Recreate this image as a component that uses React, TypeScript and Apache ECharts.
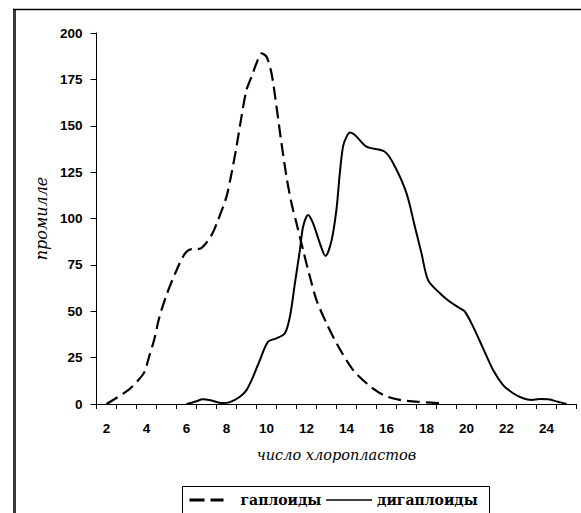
import React, { useEffect, useRef } from 'react';
import * as echarts from 'echarts';

const xCategories = ['2', '3', '4', '5', '6', '7', '8', '9', '10', '11', '12', '13', '14', '15', '16', '17', '18', '19', '20', '21', '22', '23', '24', '25'];

const haploidName = 'гаплоиды';
const haploidX = [2.0, 3.05, 3.55, 3.88, 4.13, 4.38, 4.63, 4.97, 5.47, 5.93, 6.3, 6.63, 6.97, 7.3, 7.58, 8.0, 8.25, 8.5, 8.75, 9.0, 9.25, 9.5, 9.75, 10.0, 10.25, 10.5, 10.75, 11.0, 11.25, 11.5, 11.83, 12.17, 12.5, 13.0, 13.6, 14.33, 15.0, 15.83, 16.67, 17.5, 18.67];
const haploidY = [0, 7.2, 12.4, 16.9, 25.5, 34.5, 46.2, 57.9, 71.3, 81.2, 83.6, 83.6, 86.6, 92, 99.2, 111.8, 124.3, 138.7, 154.9, 169.3, 176.4, 183.7, 189, 187.2, 178.3, 160.3, 140.5, 122.5, 108.2, 97.4, 83, 68.6, 56, 43.5, 30.9, 18.3, 11.2, 4.9, 2.2, 1.3, 0.4];

const dihaploidName = 'дигаплоиды';
const dihaploidX = [6.0, 6.5, 6.8, 7.2, 7.8, 8.17, 8.67, 9.0, 9.33, 9.67, 10.08, 10.5, 10.92, 11.17, 11.42, 11.67, 11.83, 12.08, 12.33, 12.67, 12.95, 13.25, 13.5, 13.67, 13.83, 14.0, 14.17, 14.42, 15.0, 15.92, 16.42, 17.0, 17.42, 17.75, 18.08, 18.67, 19.17, 19.67, 19.92, 20.33, 20.83, 21.33, 21.83, 22.33, 22.83, 23.25, 23.67, 24.08, 24.58, 25.0];
const dihaploidY = [0, 1.5, 2.5, 2.0, 0.5, 1.0, 3.9, 7.5, 14.7, 23.7, 33.6, 35.4, 38.1, 47.1, 65, 83, 95.6, 101.9, 97.4, 86.6, 79.8, 88, 105, 125, 139, 144, 146.3, 145, 138.7, 136, 128, 113.6, 95.6, 81.2, 66.8, 59.7, 55.1, 51.6, 49.8, 41.7, 30, 18.3, 10.2, 5.8, 3.1, 2.2, 2.7, 2.5, 1.2, 0];

const yMin = 0;
const yMax = 200;
const yStep = 25;

const xAxisTitle = 'число хлоропластов';
const yAxisTitle = 'промилле';

function zip(xs: number[], ys: number[]) {
  return xs.map((x, i) => [x, ys[i]]);
}

export default function App() {
  const ref = useRef<HTMLDivElement>(null);
  useEffect(() => {
    const chart = echarts.init(ref.current!, null, { renderer: 'svg' });
    const tickFont = {
      color: '#000',
      fontFamily: 'Liberation Sans',
      fontWeight: 'bold' as const,
      fontSize: 13.5,
    };
    const serif = 'DejaVu Serif';
    chart.setOption({
      animation: false,
      backgroundColor: '#fff',
      grid: { left: 96.5, top: 33, width: 480, height: 371, containLabel: false },
      xAxis: [
        {
          type: 'category',
          data: xCategories,
          boundaryGap: true,
          position: 'bottom',
          name: xAxisTitle,
          nameLocation: 'middle',
          nameGap: 43,
          nameTextStyle: {
            color: '#000',
            fontFamily: serif,
            fontStyle: 'italic',
            fontSize: 14.5,
          },
          axisLine: { show: true, lineStyle: { color: '#000', width: 1 } },
          axisTick: { show: true, length: 5, inside: false, lineStyle: { color: '#000' }, interval: 0 },
          axisLabel: {
            ...tickFont,
            margin: 17,
            interval: (index: number) => index % 2 === 0,
          },
          splitLine: { show: false },
        },
        {
          type: 'value',
          min: 1.5,
          max: 25.5,
          show: false,
          splitLine: { show: false },
        },
      ],
      yAxis: {
        type: 'value',
        min: yMin,
        max: yMax,
        interval: yStep,
        name: yAxisTitle,
        nameLocation: 'middle',
        nameGap: 45,
        nameTextStyle: {
          color: '#000',
          fontFamily: serif,
          fontStyle: 'italic',
          fontSize: 16,
        },
        axisLine: { show: true, lineStyle: { color: '#000', width: 1 } },
        axisTick: { show: true, length: 6, inside: false, lineStyle: { color: '#000' } },
        axisLabel: { ...tickFont, margin: 14 },
        splitLine: { show: false },
      },
      legend: {
        left: 188,
        top: 493,
        padding: 0,
        itemGap: 4,
        itemWidth: 46,
        itemHeight: 14,
        selectedMode: false,
        itemStyle: { color: 'rgba(0,0,0,0)', borderColor: 'rgba(0,0,0,0)', borderWidth: 0 },
        textStyle: {
          color: '#000',
          fontFamily: serif,
          fontWeight: 'bold',
          fontSize: 14,
        },
        data: [
          { name: haploidName, lineStyle: { type: [15, 6, 13, 40], width: 3, color: '#000' } },
          { name: dihaploidName, lineStyle: { type: 'solid', width: 1.5, color: '#000' } },
        ],
      },
      graphic: [
        { type: 'rect', silent: true, shape: { x: 13, y: 9, width: 3, height: 520 }, style: { fill: '#3a3a3a' } },
        { type: 'line', silent: true, shape: { x1: 13, y1: 9.5, x2: 600, y2: 9.5 }, style: { stroke: '#000', lineWidth: 1.5 } },
        { type: 'rect', silent: true, shape: { x: 182.5, y: 486.5, width: 307, height: 40 }, style: { fill: 'none', stroke: '#000', lineWidth: 1 } },
      ],
      series: [
        {
          name: haploidName,
          type: 'line',
          xAxisIndex: 1,
          data: zip(haploidX, haploidY),
          smooth: 0.3,
          symbol: 'none',
          lineStyle: { color: '#000', width: 2.2, type: [13, 6] },
        },
        {
          name: dihaploidName,
          type: 'line',
          xAxisIndex: 1,
          data: zip(dihaploidX, dihaploidY),
          smooth: 0.3,
          symbol: 'none',
          lineStyle: { color: '#000', width: 2, type: 'solid' },
        },
      ],
    });
    return () => chart.dispose();
  }, []);
  return (
    <div
      ref={ref}
      style={{ position: 'fixed', left: 0, top: 0, width: 581, height: 513, background: '#fff' }}
    />
  );
}
